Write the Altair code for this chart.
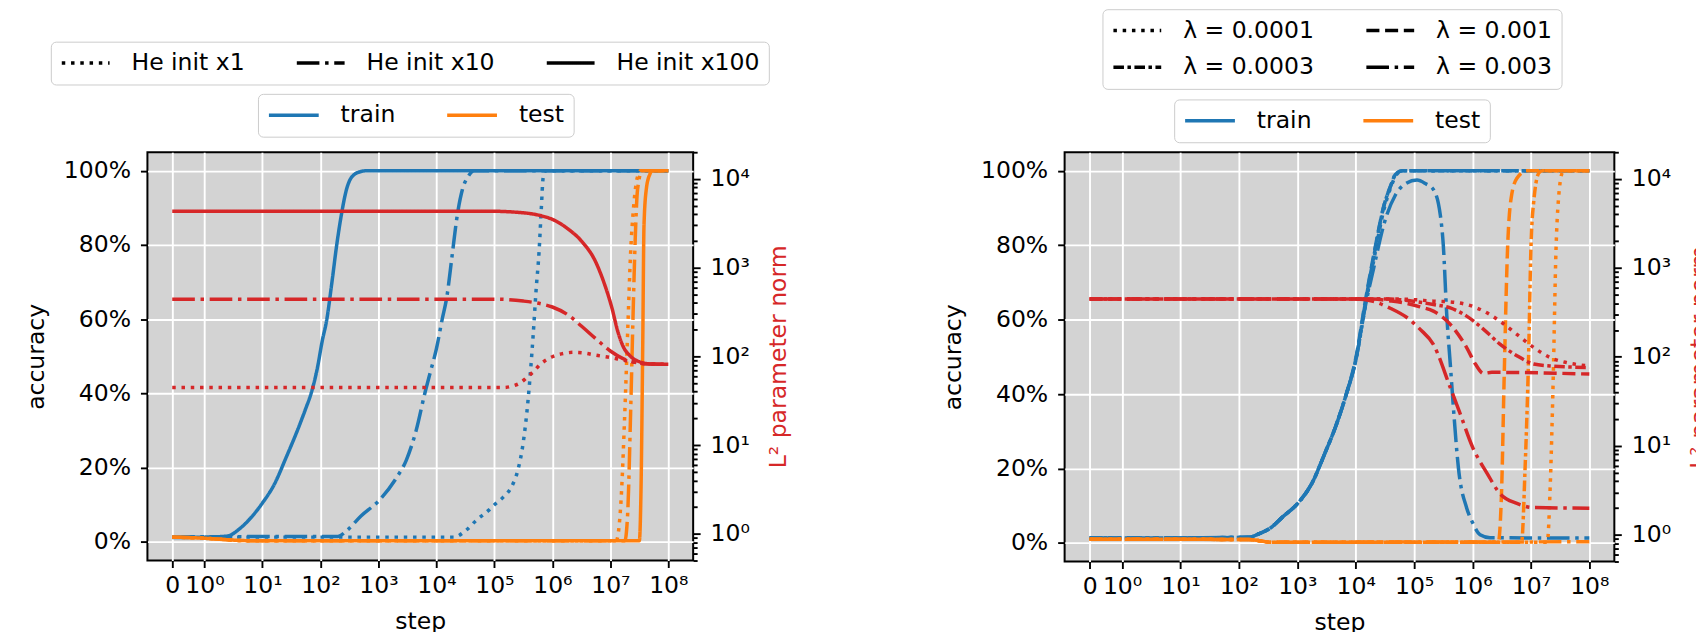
import altair as alt
import pandas as pd

# ---------------- data ----------------
# LEFT panel: He init scale
L_STYLES = ["He init x1", "He init x10", "He init x100"]

L_TRAIN_X1_STEP = [0, 1, 20000, 31600, 50100, 79400, 1e5, 141000, 200000, 251000, 316000, 380000, 468000, 525000, 589000, 646000, 692000, 759000, 1e8]
L_TRAIN_X1_ACC = [1.3, 1.3, 1.3, 3, 6, 8.5, 10, 12, 15, 19, 27, 38, 56, 68, 78, 90, 98, 100, 100]
L_TRAIN_X10_STEP = [0, 1, 200, 282, 501, 1000, 1995, 3020, 4470, 6310, 7943, 10000, 12590, 15140, 18620, 22910, 28180, 35480, 44670, 1e8]
L_TRAIN_X10_ACC = [1.3, 1.4, 1.5, 3, 7, 11, 17, 22, 30, 40, 46, 52, 60, 66, 77, 88, 95, 98.5, 100, 100]
L_TRAIN_X100_STEP = [0, 1, 2.5, 4, 6.3, 10, 16, 26, 40, 56, 69, 89, 107, 129, 158, 191, 229, 282, 355, 500, 630, 1e8]
L_TRAIN_X100_ACC = [1.2, 1.3, 1.6, 3.5, 6.5, 10.5, 15.5, 23, 30, 36, 40, 47, 54, 60, 70, 80, 88, 95, 98.5, 99.8, 100, 100]

L_TEST_X1_STEP = [0, 1, 2.5, 4, 10, 12590000, 15140000, 17780000, 19950000, 22390000, 25120000, 28180000, 33110000, 1e8]
L_TEST_X1_ACC = [1.3, 1.0, 0.6, 0.4, 0.3, 0.3, 10, 35, 57, 78, 90, 97, 100, 100]
L_TEST_X10_STEP = [0, 1, 2.5, 4, 10, 17780000, 19950000, 22390000, 24550000, 26920000, 29510000, 35480000, 1e8]
L_TEST_X10_ACC = [1.3, 1.0, 0.6, 0.4, 0.3, 0.3, 8, 35, 60, 82, 95, 100, 100]
L_TEST_X100_STEP = [0, 1, 2.5, 4, 10, 31620000, 33880000, 36310000, 38020000, 41690000, 47860000, 52480000, 1e8]
L_TEST_X100_ACC = [1.3, 1.0, 0.6, 0.4, 0.3, 0.3, 15, 55, 85, 95, 99, 100, 100]

L_NORM_X1_STEP = [0, 144500, 199500, 275400, 354800, 467700, 631000, 1e6, 1585000, 2344000, 3548000, 5623000, 1e7, 16220000, 28180000, 47860000, 1e8]
L_NORM_X1_VAL = [44.6, 44.6, 46, 50, 57, 67, 82, 99, 108, 111, 109, 103, 97, 91, 85, 82, 81.5]
L_NORM_X10_STEP = [0, 117500, 316200, 645700, 1e6, 1905000, 3162000, 5623000, 1e7, 16220000, 28180000, 47860000, 1e8]
L_NORM_X10_VAL = [440, 440, 420, 390, 360, 290, 220, 158, 115, 95, 85, 82, 81.5]
L_NORM_X100_STEP = [0, 75860, 316200, 645700, 1e6, 1905000, 3162000, 5623000, 7943000, 10720000, 13180000, 16220000, 22390000, 31620000, 50120000, 1e8]
L_NORM_X100_VAL = [4330, 4330, 4150, 3840, 3500, 2700, 2000, 1150, 650, 346, 200, 134, 100, 87, 82, 81.5]

# RIGHT panel: weight decay
R_STYLES = ["λ = 0.0001", "λ = 0.001", "λ = 0.0003", "λ = 0.003"]

R_TRAIN_STEP = [0, 1, 148, 224, 347, 562, 1000, 1778, 2951, 4467, 6918, 10000, 14790, 20420, 30900, 39810, 47860, 63100, 1e8]
R_TRAIN_1_ACC = [1.3, 1.3, 1.5, 2.5, 4, 7, 10.5, 16, 24, 31, 40, 49, 64, 76, 90, 95.5, 98.5, 100, 100]
R_TRAIN_3_ACC = [1.3, 1.3, 1.5, 2.5, 4, 7, 10.5, 16, 24, 31, 40, 49, 65, 77, 91, 96, 99, 100, 100]
R_TRAIN_10_ACC = [1.3, 1.3, 1.5, 2.5, 4, 7, 10.5, 16, 24, 31, 40, 49.5, 65.5, 77.5, 91, 96, 99, 100, 100]
R_TRAIN_30_STEP = [0, 1, 148, 224, 347, 562, 1000, 1778, 2951, 4467, 6918, 10000, 14790, 20420, 30900, 47860, 70800, 112200, 158500, 213800, 281800, 316200, 363100, 416900, 467700, 575400, 794300, 1e6, 1349000, 1995000, 1e8]
R_TRAIN_30_ACC = [1.3, 1.3, 1.5, 2.5, 4, 7, 10.5, 16, 24, 31, 40, 49, 64, 74, 86, 93.5, 96.5, 97.5, 96.5, 95, 88, 80, 61, 48, 37, 20, 9.4, 5.5, 2.2, 1.4, 1.3]

R_TEST_1_STEP = [0, 1, 148, 224, 347, 19050000, 21380000, 23990000, 26920000, 29510000, 34670000, 39810000, 1e8]
R_TEST_1_ACC = [1.0, 1.0, 0.9, 0.6, 0.15, 0.15, 15, 43, 79, 92, 99.5, 100, 100]
R_TEST_3_STEP = [0, 1, 148, 224, 347, 6918000, 7943000, 9120000, 1e7, 11220000, 13800000, 15850000, 1e8]
R_TEST_3_ACC = [1.0, 1.0, 0.9, 0.6, 0.15, 0.15, 20, 50, 79, 92, 99.5, 100, 100]
R_TEST_10_STEP = [0, 1, 148, 224, 347, 2754000, 3162000, 3467000, 3981000, 4571000, 5754000, 8511000, 1e8]
R_TEST_10_ACC = [1.0, 1.0, 0.9, 0.6, 0.15, 0.15, 15, 43, 79, 92.5, 98, 100, 100]
R_TEST_30_STEP = [0, 1, 148, 224, 347, 1e8]
R_TEST_30_ACC = [1.0, 1.0, 0.9, 0.6, 0.2, 0.3]

R_NORM_1_STEP = [0, 63100, 1e5, 213800, 416900, 794300, 1549000, 2951000, 5754000, 11220000, 21380000, 41690000, 1e8]
R_NORM_1_VAL = [446, 446, 440, 423, 415, 388, 327, 252, 179, 127, 98, 86, 79]
R_NORM_3_STEP = [0, 39810, 79430, 125900, 213800, 416900, 794300, 1549000, 2951000, 5754000, 11220000, 21380000, 1e8]
R_NORM_3_VAL = [446, 446, 430, 412, 388, 355, 287, 204, 139, 103, 83, 79, 76]
R_NORM_10_STEP = [0, 19950, 39810, 79430, 125900, 213800, 416900, 794300, 1122000, 1549000, 2138000, 1e8]
R_NORM_10_VAL = [446, 446, 425, 395, 365, 327, 232, 127, 83, 65, 67, 64]
R_NORM_30_STEP = [0, 10000, 19950, 39810, 79430, 125900, 213800, 416900, 616600, 1e6, 1778000, 2951000, 5754000, 11220000, 1e8]
R_NORM_30_VAL = [446, 446, 420, 350, 270, 205, 138, 45, 22.8, 9.7, 4.9, 2.9, 2.25, 2.02, 1.99]

# ---------------- tables ----------------
def rows(style, split, steps, vals, field):
    return [{"style": style, "split": split, "step": s, field: v} for s, v in zip(steps, vals)]

left_acc = pd.DataFrame(
    rows("He init x1", "train", L_TRAIN_X1_STEP, L_TRAIN_X1_ACC, "acc")
    + rows("He init x10", "train", L_TRAIN_X10_STEP, L_TRAIN_X10_ACC, "acc")
    + rows("He init x100", "train", L_TRAIN_X100_STEP, L_TRAIN_X100_ACC, "acc")
    + rows("He init x1", "test", L_TEST_X1_STEP, L_TEST_X1_ACC, "acc")
    + rows("He init x10", "test", L_TEST_X10_STEP, L_TEST_X10_ACC, "acc")
    + rows("He init x100", "test", L_TEST_X100_STEP, L_TEST_X100_ACC, "acc")
)
left_norm = pd.DataFrame(
    rows("He init x1", "norm", L_NORM_X1_STEP, L_NORM_X1_VAL, "norm")
    + rows("He init x10", "norm", L_NORM_X10_STEP, L_NORM_X10_VAL, "norm")
    + rows("He init x100", "norm", L_NORM_X100_STEP, L_NORM_X100_VAL, "norm")
)
right_acc = pd.DataFrame(
    rows("λ = 0.0001", "train", R_TRAIN_STEP, R_TRAIN_1_ACC, "acc")
    + rows("λ = 0.0003", "train", R_TRAIN_STEP, R_TRAIN_3_ACC, "acc")
    + rows("λ = 0.001", "train", R_TRAIN_STEP, R_TRAIN_10_ACC, "acc")
    + rows("λ = 0.003", "train", R_TRAIN_30_STEP, R_TRAIN_30_ACC, "acc")
    + rows("λ = 0.0001", "test", R_TEST_1_STEP, R_TEST_1_ACC, "acc")
    + rows("λ = 0.0003", "test", R_TEST_3_STEP, R_TEST_3_ACC, "acc")
    + rows("λ = 0.001", "test", R_TEST_10_STEP, R_TEST_10_ACC, "acc")
    + rows("λ = 0.003", "test", R_TEST_30_STEP, R_TEST_30_ACC, "acc")
)
right_norm = pd.DataFrame(
    rows("λ = 0.0001", "norm", R_NORM_1_STEP, R_NORM_1_VAL, "norm")
    + rows("λ = 0.0003", "norm", R_NORM_3_STEP, R_NORM_3_VAL, "norm")
    + rows("λ = 0.001", "norm", R_NORM_10_STEP, R_NORM_10_VAL, "norm")
    + rows("λ = 0.003", "norm", R_NORM_30_STEP, R_NORM_30_VAL, "norm")
)

# ---------------- style ----------------
FONT = "DejaVu Sans"
FS = 23.6
BLUE, ORANGE, RED = "#1f77b4", "#ff7f0e", "#d62728"
LW = 3.5
DOT = [3.5, 5.8]
DASH = [13.1, 5.7]
DASHDOT = [22.7, 5.7, 3.5, 5.7]
DDOT = [10.6, 3.5, 3.5, 3.5]
SOLID = [1, 0]

LIN = 0.5556  # symlog linear-region width (in decades)
U_EXPR = f"datum.step <= 1 ? datum.step * {LIN} : {LIN} + log(datum.step) / LN10"
X_TICKS = [0] + [LIN + k for k in range(9)]
X_LABELS = "['⁰','¹','²','³','⁴','⁵','⁶','⁷','⁸']"
X_LABEL_EXPR = f"datum.value < 0.1 ? '0' : '10' + {X_LABELS}[round(datum.value - {LIN})]"
X_DOMAIN = [-0.428, 8.984]

ACC_TICKS = [0, 20, 40, 60, 80, 100]
NORM_TICKS = [0.5, 0.6, 0.7, 0.8, 0.9]
for k in range(0, 5):
    NORM_TICKS += [m * 10 ** k for m in range(1, 10)]
NORM_TICKS = [v for v in NORM_TICKS if v <= 20000] + [20000]
IS_MAJOR = "abs(log(datum.value)/LN10 - round(log(datum.value)/LN10)) < 1e-6"
NORM_LABEL_EXPR = f"{IS_MAJOR} ? '10' + ['⁰','¹','²','³','⁴'][round(log(datum.value)/LN10)] : ''"


def x_enc():
    return alt.X(
        "u:Q",
        scale=alt.Scale(domain=X_DOMAIN, nice=False, zero=False),
        axis=alt.Axis(values=X_TICKS, labelExpr=X_LABEL_EXPR, title="step", grid=True,
                      gridColor="white", gridWidth=1.9, tickSize=7, labelPadding=6,
                      labelOverlap=False, labelFlush=False, titlePadding=13),
    )


def dash_legend(x, y, cols, row_pad):
    return alt.Legend(orient="none", legendX=x, legendY=y, direction="horizontal", columns=cols,
                      title=None, symbolType="stroke", symbolSize=2304, symbolStrokeWidth=LW,
                      symbolStrokeColor="black", clipHeight=25, labelOffset=20, columnPadding=50,
                      rowPadding=row_pad, padding=9, fillColor="rgba(255,255,255,0.8)",
                      strokeColor="#cccccc", cornerRadius=5, labelLimit=400,
                      labelFont=FONT, labelFontSize=FS, labelColor="black")


def color_legend(x, y):
    return alt.Legend(orient="none", legendX=x, legendY=y, direction="horizontal", columns=2,
                      title=None, symbolType="stroke", symbolSize=2500, symbolStrokeWidth=LW,
                      clipHeight=25, labelOffset=20, columnPadding=50, padding=9,
                      fillColor="rgba(255,255,255,0.8)", strokeColor="#cccccc", cornerRadius=5,
                      labelLimit=400, labelFont=FONT, labelFontSize=FS, labelColor="black")


def panel(acc_df, norm_df, styles, dashes, w, h, dleg, cleg):
    dash_scale = alt.Scale(domain=styles, range=dashes)
    acc = alt.Chart(acc_df).transform_calculate(u=U_EXPR).mark_line(
        strokeWidth=LW, interpolate="monotone").encode(
        x=x_enc(),
        y=alt.Y("acc:Q", scale=alt.Scale(domain=[-5, 105], nice=False, zero=False),
                axis=alt.Axis(orient="left", values=ACC_TICKS, labelExpr="datum.value + '%'",
                              title="accuracy", grid=True, gridColor="white", gridWidth=1.9,
                              tickSize=7, labelPadding=10, titlePadding=15)),
        color=alt.Color("split:N", scale=alt.Scale(domain=["train", "test"], range=[BLUE, ORANGE]),
                        legend=cleg),
        strokeDash=alt.StrokeDash("style:N", scale=dash_scale, legend=dleg),
    )
    norm = alt.Chart(norm_df).transform_calculate(u=U_EXPR).mark_line(
        strokeWidth=LW, interpolate="monotone", color=RED).encode(
        x=x_enc(),
        y=alt.Y("norm:Q", scale=alt.Scale(type="log", domain=[0.5, 20000], nice=False),
                axis=alt.Axis(orient="right", values=NORM_TICKS, labelExpr=NORM_LABEL_EXPR,
                              title="L² parameter norm", titleColor=RED, titleAngle=270,
                              titleBaseline="top", grid=False, labelPadding=10, titlePadding=17,
                              tickSize={"condition": {"test": IS_MAJOR, "value": 7}, "value": 4})),
        strokeDash=alt.StrokeDash("style:N", scale=dash_scale, legend=dleg),
    )
    return alt.layer(acc, norm).resolve_scale(y="independent").properties(width=w, height=h)


left = panel(left_acc, left_norm, L_STYLES, [DOT, DASHDOT, SOLID], 548, 410,
             dash_legend(-97, -111, 3, 0), color_legend(111, -58.6))
right = panel(right_acc, right_norm, R_STYLES, [DOT, DASH, DDOT, DASHDOT], 552, 411,
              dash_legend(38, -143.6, 2, 11.7), color_legend(110, -53))

chart = alt.hconcat(left, right, spacing=149).resolve_scale(
    color="independent", strokeDash="independent"
).properties(
    padding={"left": 15, "top": -2.5, "right": -17, "bottom": 0}
).configure_view(
    fill="#d3d3d3", stroke="black", strokeWidth=2
).configure_axis(
    labelFont=FONT, labelFontSize=FS, labelColor="black", titleFont=FONT, titleFontSize=FS,
    titleFontWeight="normal", titleColor="black", tickColor="black", tickWidth=1.9, domain=False
)

chart.save("out.html", embed_options={"renderer": "svg", "actions": False})
